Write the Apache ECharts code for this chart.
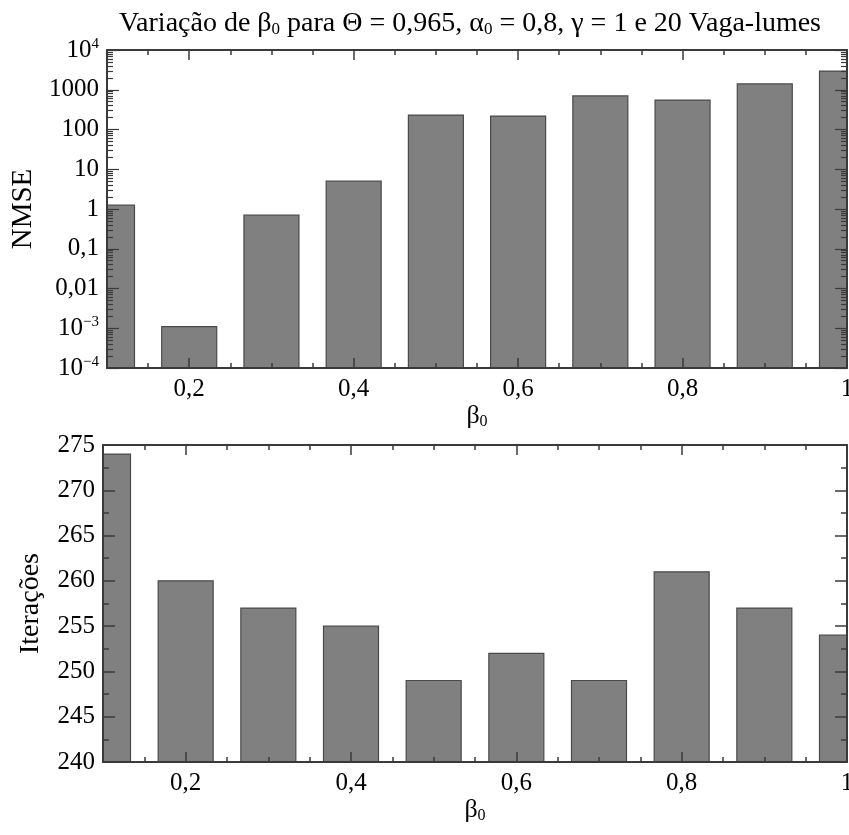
<!DOCTYPE html>
<html>
<head>
<meta charset="utf-8">
<script src="https://cdn.jsdelivr.net/npm/echarts@6/dist/echarts.min.js"></script>
<style>
html, body { margin: 0; padding: 0; background: #fff; overflow: hidden; }
#container { width: 849px; height: 835px; }
</style>
</head>
<body>
<div id="container"></div>
<script>
// valores de beta0 e resultados
var betaValues = [0.1, 0.2, 0.3, 0.4, 0.5, 0.6, 0.7, 0.8, 0.9, 1.0];
var nmseValues = [1.25, 0.0011, 0.7, 5.0, 230, 218, 700, 550, 1400, 2950];
var iterValues = [274, 260, 257, 255, 249, 252, 249, 261, 257, 254];
var xMajorTicks = [0.2, 0.4, 0.6, 0.8, 1.0];
var nmseTickLabels = {
    '10000': '10{sup|4}', '1000': '1000', '100': '100', '10': '10', '1': '1',
    '0.1': '0,1', '0.01': '0,01', '0.001': '10{sup|\u22123}', '0.0001': '10{sup|\u22124}'
};

var FONT = 'Liberation Serif';
var AXIS_COLOR = '#3a3a3a';
var BAR_COLOR = '#808080';
var BAR_WIDTH = 55;

// minor ticks do eixo log (2..9 em cada década)
var logMinor = [];
for (var k = -4; k < 4; k++) {
    for (var m = 2; m <= 9; m++) {
        logMinor.push(+(m * Math.pow(10, k)).toPrecision(3));
    }
}

var subRich = {
    b: { fontFamily: FONT, fontSize: 26, color: '#000' },
    s: { fontFamily: FONT, fontSize: 16, color: '#000', padding: [11, 0, 0, 0] },
    t: { fontFamily: FONT, fontSize: 28, color: '#000' },
    ts: { fontFamily: FONT, fontSize: 17, color: '#000', padding: [12, 0, 0, 0] }
};

function fmtX(v) {
    var r = Math.round(v * 10) / 10;
    if (r === 1) return '1';
    return String(r).replace('.', ',');
}

// barras desenhadas com recorte na área do grid
function barRenderer(baseValue) {
    return function (params, api) {
        var top = api.coord([api.value(0), api.value(1)]);
        var bottom = api.coord([api.value(0), baseValue]);
        var rect = echarts.graphic.clipRectByRect({
            x: top[0] - BAR_WIDTH / 2, y: top[1],
            width: BAR_WIDTH, height: bottom[1] - top[1]
        }, {
            x: params.coordSys.x, y: params.coordSys.y,
            width: params.coordSys.width, height: params.coordSys.height
        });
        if (!rect) return;
        return {
            type: 'rect', shape: rect,
            style: { fill: BAR_COLOR, stroke: '#4a4a4a', lineWidth: 1.2 }
        };
    };
}

function xAxes(grid, withName) {
    var base = {
        gridIndex: grid, type: 'value', min: 0.1, max: 1.0, z: 5,
        splitLine: { show: false },
        axisLine: { show: true, lineStyle: { color: AXIS_COLOR, width: 2 } }
    };
    return [
        Object.assign({}, base, {
            position: 'bottom', interval: 0.05,
            axisTick: { show: true, inside: true, length: 5, lineStyle: { color: AXIS_COLOR, width: 1.5 } },
            axisLabel: {
                show: true, customValues: xMajorTicks, formatter: fmtX, margin: 9,
                fontFamily: FONT, fontSize: 25, color: '#000'
            },
            name: withName ? '{b|\u03b2}{s|0}' : '',
            nameLocation: 'middle', nameGap: withName ? 32 : 0,
            nameTextStyle: { rich: subRich }
        }),
        Object.assign({}, base, {
            position: 'bottom',
            axisLine: { show: false },
            axisTick: { show: true, inside: true, length: 10, customValues: xMajorTicks, lineStyle: { color: AXIS_COLOR, width: 1.5 } },
            axisLabel: { show: false }
        }),
        Object.assign({}, base, {
            position: 'top', interval: 0.05,
            axisTick: { show: true, inside: true, length: 5, lineStyle: { color: AXIS_COLOR, width: 1.5 } },
            axisLabel: { show: false }
        }),
        Object.assign({}, base, {
            position: 'top',
            axisLine: { show: false },
            axisTick: { show: true, inside: true, length: 10, customValues: xMajorTicks, lineStyle: { color: AXIS_COLOR, width: 1.5 } },
            axisLabel: { show: false }
        })
    ];
}

function logAxis(pos, labels, minor) {
    var ax = {
        gridIndex: 0, type: 'log', logBase: 10, min: 0.0001, max: 10000, z: 5,
        position: pos, splitNumber: 8,
        splitLine: { show: false },
        axisLine: { show: !minor, lineStyle: { color: AXIS_COLOR, width: 2 } },
        axisTick: { show: true, inside: true, length: minor ? 6 : 12, lineStyle: { color: AXIS_COLOR, width: 1.2 } },
        axisLabel: { show: false }
    };
    if (minor) ax.axisTick.customValues = logMinor;
    if (labels) {
        ax.axisLabel = {
            show: true, margin: 8, fontFamily: FONT, fontSize: 25, color: '#000',
            formatter: function (v) {
                var key = String(+v.toPrecision(3));
                return nmseTickLabels[key] !== undefined ? nmseTickLabels[key] : '';
            },
            rich: { sup: { fontFamily: FONT, fontSize: 15, color: '#000', padding: [0, 0, 12, 0] } }
        };
        ax.name = 'NMSE';
        ax.nameLocation = 'middle';
        ax.nameGap = 62;
        ax.nameTextStyle = { fontFamily: FONT, fontSize: 29, color: '#000' };
    }
    return ax;
}

function iterAxis(pos, labels) {
    var ax = {
        gridIndex: 1, type: 'value', min: 240, max: 275, interval: 5, z: 5,
        position: pos,
        splitLine: { show: false },
        axisLine: { show: true, lineStyle: { color: AXIS_COLOR, width: 2 } },
        axisTick: { show: true, inside: true, length: 12, lineStyle: { color: AXIS_COLOR, width: 1.5 } },
        minorTick: { show: true, splitNumber: 2, length: 6, lineStyle: { color: AXIS_COLOR, width: 1.5 } },
        axisLabel: { show: false }
    };
    if (labels) {
        ax.axisLabel = { show: true, margin: 8, fontFamily: FONT, fontSize: 25, color: '#000' };
        ax.name = 'Iterações';
        ax.nameLocation = 'middle';
        ax.nameGap = 58;
        ax.nameTextStyle = { fontFamily: FONT, fontSize: 28, color: '#000' };
    }
    return ax;
}

var nmseData = betaValues.map(function (b, i) { return [b, nmseValues[i]]; });
var iterData = betaValues.map(function (b, i) { return [b, iterValues[i]]; });

var option = {
    animation: false,
    backgroundColor: '#fff',
    title: {
        text: '{t|Variação de β}{ts|0}{t| para \u0398 = 0,965, \u03b1}{ts|0}{t| = 0,8, \u03b3 = 1 e 20 Vaga-lumes}',
        left: 465, top: 4, textAlign: 'center',
        textStyle: {
            fontFamily: FONT, fontSize: 28, fontWeight: 'normal', color: '#000',
            rich: subRich
        }
    },
    grid: [
        { left: 107, right: 2, top: 50, height: 318, outerBoundsMode: 'none', containLabel: false },
        { left: 103, right: 2, top: 445, height: 317, outerBoundsMode: 'none', containLabel: false }
    ],
    xAxis: xAxes(0, true).concat(xAxes(1, true)),
    yAxis: [
        logAxis('left', true, false),
        logAxis('left', false, true),
        logAxis('right', false, false),
        logAxis('right', false, true),
        iterAxis('left', true),
        iterAxis('right', false)
    ],
    series: [
        {
            type: 'custom', xAxisIndex: 0, yAxisIndex: 0, z: 1,
            renderItem: barRenderer(0.0001),
            encode: { x: 0, y: 1 },
            data: nmseData
        },
        {
            type: 'custom', xAxisIndex: 4, yAxisIndex: 4, z: 1,
            renderItem: barRenderer(240),
            encode: { x: 0, y: 1 },
            data: iterData
        }
    ]
};
// ajusta gridIndex dos eixos x do segundo gráfico
for (var i = 4; i < 8; i++) option.xAxis[i].gridIndex = 1;

var myChart = echarts.init(document.getElementById('container'));
myChart.setOption(option);
</script>
</body>
</html>
